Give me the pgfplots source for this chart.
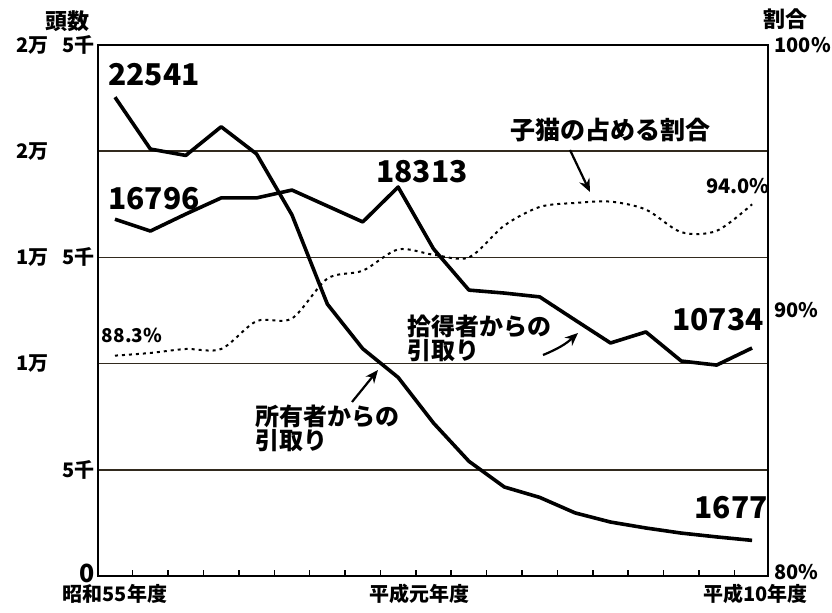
\documentclass[border=0pt]{standalone}
\usepackage{fontspec}
\setmainfont{Noto Sans CJK JP}
\usepackage{pgfplots}
\usepackage{pgfplotstable}
\pgfplotsset{compat=1.18}
\usetikzlibrary{arrows.meta}
\newcommand\fs[1]{\fontsize{#1bp}{#1bp}\selectfont\bfseries}
\definecolor{gridc}{RGB}{50,42,30}

\pgfplotstableread{
x owner finder ratio
0 22541 16796 88.3
1 20100 16240 88.4
2 19800 17040 88.55
3 21150 17800 88.55
4 19870 17800 89.6
5 17000 18170 89.7
6 12800 17420 91.2
7 10700 16670 91.5
8 9350 18313 92.3
9 7200 15400 92.1
10 5400 13460 92.0
11 4190 13320 93.2
12 3700 13140 93.9
13 2970 12050 94.05
14 2540 10970 94.1
15 2260 11490 93.8
16 2020 10120 92.95
17 1840 9930 93.0
18 1677 10734 94.0
}\data

\begin{document}
\begin{tikzpicture}[x=1bp,y=1bp]
\useasboundingbox (0,0) rectangle (832,613);
\begin{axis}[
  at={(98bp,37bp)}, anchor=south west,
  scale only axis, width=670bp, height=531bp,
  xmin=-0.48, xmax=18.45, ymin=0, ymax=25000,
  scaled y ticks=false,
  axis line style={line width=2.6bp},
  xtick={0.5,1.5,...,17.5}, xticklabels={},
  xtick pos=bottom, tick align=inside, major tick length=6bp,
  x tick style={line width=1.5bp, black},
  extra x ticks={0,8.6,18.1},
  extra x tick labels={昭和55年度,平成元年度,平成10年度},
  extra x tick style={major tick length=0pt},
  xticklabel style={font=\fs{20}, yshift=-5bp},
  ytick={0,5000,10000,15000,20000,25000},
  yticklabels={{\hbox to 78bp{\hfil\fs{25}\raisebox{6bp}{0}}},{\hbox to 78bp{\hfil 5千}},{\hbox to 78bp{1万\hfil}},{\hbox to 78bp{1万\hfil 5千}},{\hbox to 78bp{2万\hfil}},{\hbox to 78bp{2万\hfil 5千}}},
  ytick pos=left, y tick style={draw=none},
  yticklabel style={font=\fs{20}, anchor=east},
  ymajorgrids, major grid style={line width=1.6bp, color=gridc},
  clip=false,
]
\addplot[line width=3.6bp, line join=round, black] table[x=x,y=owner]{\data};
\addplot[line width=3.6bp, line join=round, black] table[x=x,y=finder]{\data};
\end{axis}
\begin{axis}[
  at={(98bp,37bp)}, anchor=south west,
  scale only axis, width=670bp, height=531bp,
  xmin=-0.48, xmax=18.45, ymin=80, ymax=100,
  hide x axis, axis y line*=right,
  axis line style={line width=2.6bp},
  ytick={80,90,100}, yticklabels={\raisebox{9bp}{80\%},\raisebox{-12bp}{90\%},100\%},
  y tick style={draw=none},
  yticklabel style={font=\fs{20}, anchor=west, xshift=3bp},
  clip=false,
]
\addplot[line width=2bp, dash pattern=on 3bp off 4bp, smooth, black] table[x=x,y=ratio]{\data};
\end{axis}
% annotations
\node[font=\fs{22}] at (67,592) {頭数};
\node[font=\fs{22}] at (785,594) {割合};
\node[font=\fs{30}] at (154,538) {22541};
\node[font=\fs{30}] at (154,414) {16796};
\node[font=\fs{30}] at (422,441) {18313};
\node[font=\fs{30}] at (718,293) {10734};
\node[font=\fs{30}] at (731,105) {1677};
\node[font=\fs{20}] at (738,427) {94.0\%};
\node[font=\fs{19}] at (132,278) {88.3\%};
\node[font=\fs{25}] at (610,483) {子猫の占める割合};
\node[font=\fs{24}, anchor=north west, inner sep=0pt, align=left] at (407,298) {拾得者からの\\引取り};
\node[font=\fs{24}, anchor=north west, inner sep=0pt, align=left] at (255,208) {所有者からの\\引取り};
\draw[line width=2.2bp, -{Stealth[length=13bp,width=11bp]}] (570,463) -- (590,421);
\draw[line width=2.2bp, -{Stealth[length=13bp,width=11bp]}] (543,258) to[bend right=10] (578,280);
\draw[line width=2.2bp, -{Stealth[length=13bp,width=11bp]}] (352,211) -- (378,243);
\end{tikzpicture}
\end{document}
